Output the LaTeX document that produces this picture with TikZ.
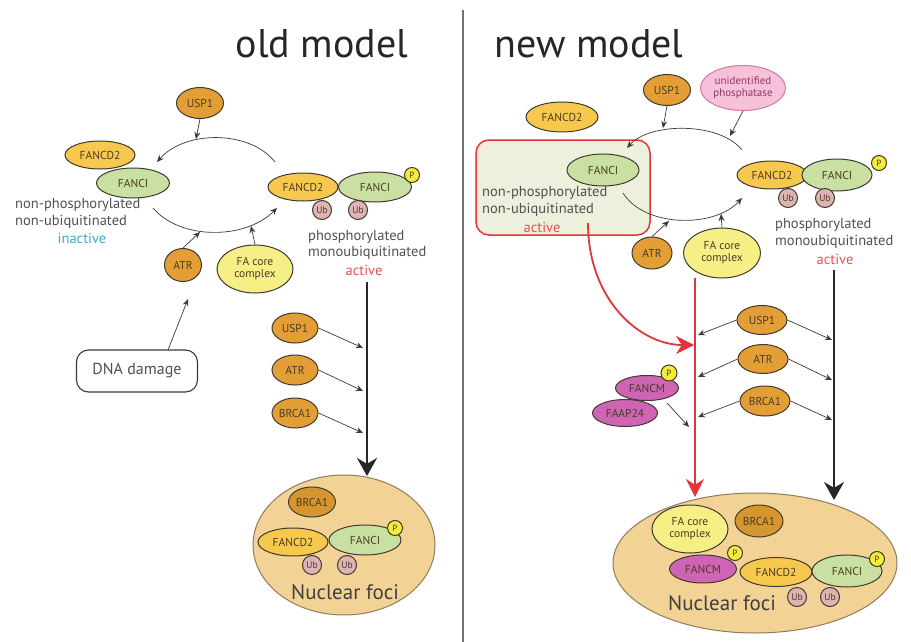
\documentclass[tikz,border=0pt]{standalone}
\usepackage{fontspec}
\setmainfont{PT Sans}
\usetikzlibrary{shapes.geometric,arrows.meta}
\definecolor{cDark}{HTML}{E49E36}
\definecolor{cDarkF}{HTML}{D6962F}
\definecolor{cFD}{HTML}{F6C84E}
\definecolor{cFI}{HTML}{C9E0A2}
\definecolor{cFA}{HTML}{F6EF86}
\definecolor{cP}{HTML}{F3EC3C}
\definecolor{cUb}{HTML}{DDB3B3}
\definecolor{cM}{HTML}{CF64B4}
\definecolor{cPh}{HTML}{F8C1DA}
\definecolor{cPhE}{HTML}{D27A9E}
\definecolor{cPhT}{HTML}{8C3A66}
\definecolor{cFoci}{HTML}{F3D295}
\definecolor{cFociE}{HTML}{8E7C5C}
\definecolor{cRed}{HTML}{E0353C}
\definecolor{cBox}{HTML}{EDF0DD}
\definecolor{cBlue}{HTML}{3AAAC9}
\definecolor{edge}{HTML}{3F3A30}
\definecolor{lbltxt}{HTML}{4A3D22}
\definecolor{stxt}{HTML}{505050}
\tikzset{
  base/.style={draw=edge, line width=1pt, inner sep=0pt, text=lbltxt,
    font=\fontsize{11.5}{12}\selectfont, align=center},
  ell/.style={base, ellipse},
  enz/.style={ell, fill=cDark, minimum width=47pt, minimum height=31pt},
  fd/.style={ell, fill=cFD, minimum width=70pt, minimum height=28pt},
  fi/.style={ell, fill=cFI, minimum width=73pt, minimum height=30pt},
  fac/.style={ell, fill=cFA, minimum width=76pt, minimum height=48pt},
  pp/.style={base, circle, fill=cP, minimum size=15pt, font=\fontsize{9}{9}\selectfont},
  ubq/.style={base, circle, fill=cUb, minimum size=19pt, font=\fontsize{9.5}{10}\selectfont},
  magn/.style={ell, fill=cM, minimum width=64pt, minimum height=26pt},
  stxt/.style={font=\fontsize{14.5}{16}\selectfont, text=stxt, inner sep=0pt, anchor=west},
  acttxt/.style={font=\fontsize{14.5}{16}\selectfont, text=cRed!85, inner sep=0pt},
  title/.style={font=\fontsize{40}{44}\selectfont, text=black!85, inner sep=0pt},
  sarr/.style={draw=edge, line width=0.7pt, -{Stealth[length=7pt,width=6pt]}},
  bigblk/.style={draw=black!85, line width=1.8pt, -{Stealth[length=18pt,width=20pt]}},
  bigred/.style={draw=cRed, line width=1.8pt, -{Stealth[length=18pt,width=18pt]}},
}
\begin{document}
\begin{tikzpicture}[x=1pt,y=-1pt]
\fill[white] (0,0) rectangle (911,642);
\useasboundingbox (0,0) rectangle (911,642);

% divider
\draw[line width=1.5pt, black!55] (463,10) -- (463,642);

% titles
\node[title] (told) at (322,44) {old model};
\node[title] (tnew) at (589,44) {new model};

%%%%%%%%%%%%%%%% OLD MODEL %%%%%%%%%%%%%%%%
\coordinate (oU1) at (275,162);
\coordinate (oU2) at (157,162);
\coordinate (oL1) at (153,208);
\coordinate (oL2) at (277,208);
\draw[sarr] (oU1) .. controls (250,130) and (185,130) .. (oU2);
\draw[sarr] (oL1) .. controls (180,240) and (245,240) .. (oL2);

\node[enz] (usp1o) at (200,103) {USP1};
\coordinate (usp1oT) at (196,139);
\draw[sarr] (usp1o.south) -- (usp1oT);

\node[fd] (fd2o) at (100,155) {FANCD2};
\node[fi] (fcio) at (133,183) {FANCI};
\node[stxt] (np1o) at (15,205) {non-phosphorylated};
\node[stxt] (np2o) at (15,222) {non-ubiquitinated};
\node[font=\fontsize{14.5}{16}\selectfont, text=cBlue, inner sep=0pt] (inacto) at (82,238) {inactive};

\node[enz, minimum width=37pt, minimum height=33pt] (atro) at (183,265) {ATR};
\node[fac] (faco) at (255,269) {FA core\\complex};
\coordinate (atroT) at (200,232);
\coordinate (facoT) at (251,226);
\draw[sarr] (atro.north) -- (atroT);
\draw[sarr] (faco.north) -- (facoT);

\node[base, rounded corners=12pt, minimum width=121pt, minimum height=42pt,
  font=\fontsize{16}{18}\selectfont, text=stxt, line width=1.1pt] (dna) at (137,371) {DNA damage};
\coordinate (dnaT) at (188,299);
\draw[sarr] (168,350) -- (dnaT);

% active complex old
\node[fd] (fd2ao) at (303,187) {FANCD2};
\node[fi] (fciao) at (375,187) {FANCI};
\node[pp] (pao) at (412,175) {P};
\node[ubq] (ub1ao) at (322,210) {Ub};
\node[ubq] (ub2ao) at (358,210) {Ub};
\node[stxt] (ph1o) at (308,237) {phosphorylated};
\node[stxt] (ph2o) at (308,253) {monoubiquitinated};
\node[acttxt] (acto) at (364,270) {active};

% foci old
\node[ell, fill=cFoci, draw=cFociE, minimum width=182pt, minimum height=140pt] (focio) at (344,545) {};
\coordinate (blkoS) at (367,282);
\coordinate (blkoE) at (367,476);
\draw[bigblk] (blkoS) -- (blkoE);

\node[enz, minimum width=46pt, minimum height=30pt] (usp1so) at (295,328) {USP1};
\node[enz, minimum width=46pt, minimum height=30pt] (atrso) at (295,370) {ATR};
\node[enz, minimum width=46pt, minimum height=30pt] (brcaso) at (295,413) {BRCA1};
\coordinate (ko1) at (363,348);
\coordinate (ko2) at (363,391);
\coordinate (ko3) at (363,433);
\draw[sarr] (usp1so.east) -- (ko1);
\draw[sarr] (atrso.east) -- (ko2);
\draw[sarr] (brcaso.east) -- (ko3);

\node[enz, fill=cDarkF, minimum width=47pt, minimum height=30pt] (brcafo) at (312,502) {BRCA1};
\node[fd] (fd2fo) at (293,542) {FANCD2};
\node[fi, minimum width=72pt] (fcifo) at (365,540) {FANCI};
\node[pp] (pfo) at (395,528) {P};
\node[ubq] (ub1fo) at (312,565) {Ub};
\node[ubq] (ub2fo) at (347,565) {Ub};
\node[font=\fontsize{21}{24}\selectfont, text=black!75, inner sep=0pt] (nfo) at (345,592) {Nuclear foci};

%%%%%%%%%%%%%%%% NEW MODEL %%%%%%%%%%%%%%%%
\node[fd, minimum width=72pt, minimum height=30pt] (fd2n) at (562,117) {FANCD2};

\node[base, rounded corners=13pt, draw=cRed, fill=cBox, line width=1.5pt,
  minimum width=174pt, minimum height=95pt] (rbox) at (563,187.5) {};
\node[stxt] (np1n) at (482,193) {non-phosphorylated};
\node[stxt] (np2n) at (482,210) {non-ubiquitinated};
\node[acttxt] (actn) at (542,227) {active};

\coordinate (nU1) at (742,150);
\coordinate (nU2) at (627,148);
\coordinate (nL1) at (623,193);
\coordinate (nL2) at (742,198);
\draw[sarr] (nU1) .. controls (720,122) and (650,122) .. (nU2);
\draw[sarr] (nL1) .. controls (645,228) and (715,228) .. (nL2);
\node[fi, minimum width=72pt, minimum height=32pt] (fcin) at (603,170) {FANCI};

\node[enz] (usp1n) at (667,90) {USP1};
\node[ell, fill=cPh, draw=cPhE, text=cPhT, minimum width=85pt, minimum height=45pt,
  font=\fontsize{11}{12}\selectfont] (phos) at (743,88) {unidentified\\phosphatase};
\coordinate (usp1nT) at (663,128);
\coordinate (phosT) at (730,136);
\draw[sarr] (usp1n.south) -- (usp1nT);
\draw[sarr] (phos.south) -- (phosT);

\node[enz, minimum width=40pt, minimum height=32pt] (atrn) at (652,253) {ATR};
\node[fac, minimum width=77pt, minimum height=50pt] (facn) at (722,253) {FA core\\complex};
\coordinate (atrnT) at (669,221);
\coordinate (facnT) at (721,214);
\draw[sarr] (atrn.north) -- (atrnT);
\draw[sarr] (facn.north) -- (facnT);

\node[fd] (fd2an) at (772,175) {FANCD2};
\node[fi, minimum width=70pt, minimum height=32pt] (fcian) at (837,175) {FANCI};
\node[pp] (pan) at (879,163) {P};
\node[ubq] (ub1an) at (788,198) {Ub};
\node[ubq] (ub2an) at (825,198) {Ub};
\node[stxt] (ph1n) at (775,225) {phosphorylated};
\node[stxt] (ph2n) at (775,242) {monoubiquitinated};
\node[acttxt] (actn2) at (835,259) {active};

\node[ell, fill=cFoci, draw=cFociE, minimum width=284pt, minimum height=140pt] (focin) at (755,563) {};
\coordinate (blknS) at (834,270);
\coordinate (blknE) at (834,500);
\coordinate (rednS) at (695,278);
\coordinate (rednE) at (695,497);
\draw[bigblk] (blknS) -- (blknE);
\draw[bigred] (rednS) -- (rednE);
\coordinate (rcS) at (588,223);
\coordinate (rcE) at (694,345);
\draw[bigred] (rcS) .. controls (588,300) and (640,345) .. (rcE);

\node[enz, minimum width=50pt, minimum height=29pt] (usp1sn) at (762,320) {USP1};
\node[enz, minimum width=50pt, minimum height=29pt] (atrsn) at (763,359) {ATR};
\node[enz, minimum width=50pt, minimum height=30pt] (brcasn) at (765,401) {BRCA1};
\coordinate (kl1) at (698,335);
\coordinate (kl2) at (698,377);
\coordinate (kl3) at (698,417);
\coordinate (kr1) at (832,340);
\coordinate (kr2) at (832,380);
\coordinate (kr3) at (832,420);
\draw[sarr] (usp1sn.west) -- (kl1);
\draw[sarr] (atrsn.west) -- (kl2);
\draw[sarr] (brcasn.west) -- (kl3);
\draw[sarr] (usp1sn.east) -- (kr1);
\draw[sarr] (atrsn.east) -- (kr2);
\draw[sarr] (brcasn.east) -- (kr3);

\node[magn, minimum width=63pt, minimum height=25pt] (fmn) at (647,388) {FANCM};
\node[pp, minimum size=16pt] (pmn) at (669,373) {P};
\node[magn, minimum width=65pt, minimum height=27pt] (faap) at (625,413) {FAAP24};
\coordinate (kfmS) at (667,403);
\coordinate (kfm) at (689,427);
\draw[sarr] (kfmS) -- (kfm);

\node[fac, minimum width=76pt, minimum height=48pt] (facfn) at (690,529) {FA core\\complex};
\node[enz, fill=cDarkF, minimum width=48pt, minimum height=32pt] (brcafn) at (759,521) {BRCA1};
\node[magn, minimum width=67pt, minimum height=28pt] (fmfn) at (703,569) {FANCM};
\node[pp] (pfn1) at (735,553) {P};
\node[fd, minimum width=72pt, minimum height=29pt] (fd2fn) at (776,572) {FANCD2};
\node[fi, minimum width=70pt, minimum height=32pt] (fcifn) at (847,571) {FANCI};
\node[pp] (pfn2) at (877,559) {P};
\node[ubq] (ub1fn) at (797,597) {Ub};
\node[ubq] (ub2fn) at (830,597) {Ub};
\node[font=\fontsize{21}{24}\selectfont, text=black!75, inner sep=0pt] (nfn) at (722,603) {Nuclear foci};
\end{tikzpicture}
\end{document}
